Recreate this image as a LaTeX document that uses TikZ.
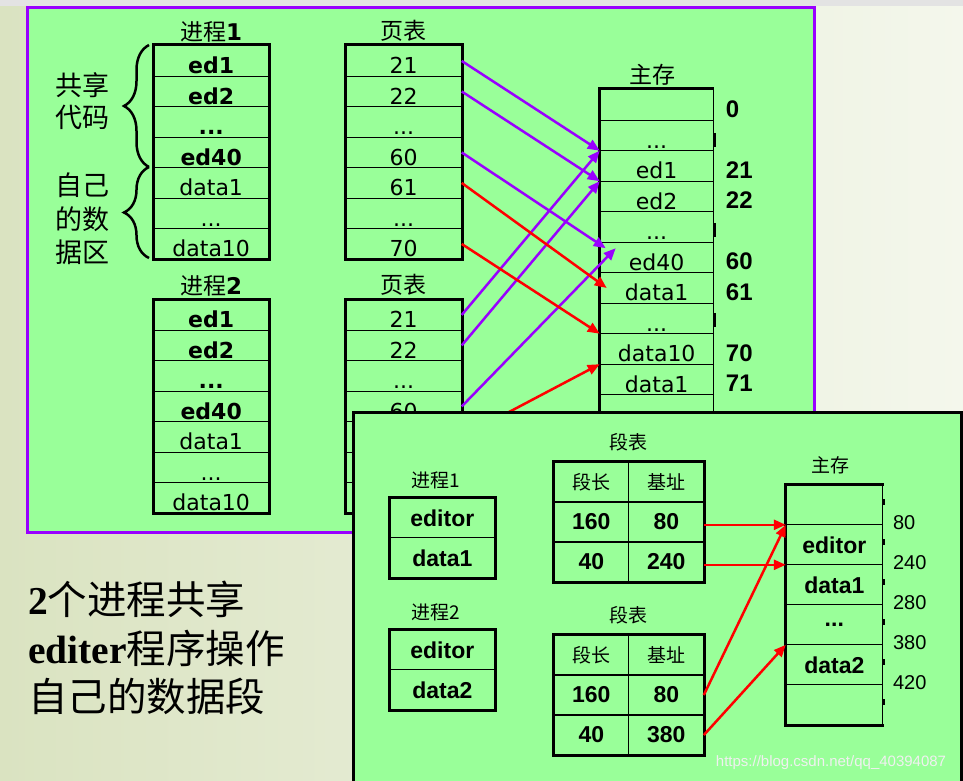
\documentclass[tikz,border=0pt]{standalone}
\usepackage{fontspec}
\setmainfont{DejaVu Sans}
\newfontfamily\cjk{Noto Sans CJK SC}
\newfontfamily\arialf{Liberation Sans}
\newfontfamily\timesf{Liberation Serif}
\usepackage{tikz}
\usetikzlibrary{matrix,arrows.meta,positioning}
\usetikzlibrary{decorations.pathreplacing}

\definecolor{panelgreen}{RGB}{153,255,153}
\definecolor{arrpurple}{RGB}{153,0,255}
\definecolor{bgleft}{RGB}{218,227,193}
\definecolor{bgright}{RGB}{244,247,236}

\newcommand\cellfont{\fontsize{22}{26}\selectfont}
\newcommand\segfont{\arialf\bfseries\fontsize{23}{26}\selectfont}
\newcommand\zh[1]{{\cjk #1}}
\newcommand\zhs[1]{{\cjk\mdseries\fontsize{19}{22}\selectfont #1}}

\begin{document}
\begin{tikzpicture}[x=1pt,y=-1pt,
  tbl/.style={matrix of nodes, nodes in empty cells, inner sep=0pt, row sep=-1pt, anchor=north west,
    nodes={draw, line width=1pt, inner sep=0pt, outer sep=0pt, minimum width=#1,
      minimum height=30.5pt, text height=26pt, text depth=0pt, font=\cellfont}},
  segtbl/.style={matrix of nodes, nodes in empty cells, inner sep=0pt, row sep=-1.2pt, column sep=-1.2pt, anchor=north west,
    nodes={draw, line width=1.2pt, inner sep=0pt, outer sep=0pt, minimum width=#1,
      minimum height=40pt, font=\segfont}},
  frame/.style={line width=3pt},
  ttl/.style={font=\fontsize{23}{26}\selectfont, inner sep=0pt},
  addr/.style={font=\arialf\bfseries\fontsize{24}{26}\selectfont, inner sep=0pt},
  addrb/.style={font=\arialf\fontsize{20}{22}\selectfont, inner sep=0pt},
  parr/.style={draw=arrpurple, line width=2.5pt, -{Triangle[length=12pt,width=10pt]}},
  rarr/.style={draw=red, line width=2.5pt, -{Triangle[length=12pt,width=10pt]}},
  brc/.style={decorate, decoration={brace, amplitude=25pt}, line width=2.5pt},
]
\useasboundingbox (0,0) rectangle (963,781);
\clip (0,0) rectangle (963,781);
% background
\fill[left color=bgleft, right color=bgright] (0,0) rectangle (963,781);
\fill[gray!22] (0,0) rectangle (963,6);

% paging panel
\draw[line width=3pt, draw=arrpurple, fill=panelgreen] (27.5,8) rectangle (814.5,532);

\matrix (p1) [tbl=115pt] at (153,45) {
  \textbf{ed1} \\ \textbf{ed2} \\ \textbf{...} \\ \textbf{ed40} \\ data1 \\ ... \\ data10 \\
};
\matrix (pt1) [tbl=116pt] at (345,45) {
  21 \\ 22 \\ ... \\ 60 \\ 61 \\ ... \\ 70 \\
};
\matrix (p2) [tbl=115pt] at (153,299) {
  \textbf{ed1} \\ \textbf{ed2} \\ \textbf{...} \\ \textbf{ed40} \\ data1 \\ ... \\ data10 \\
};
\matrix (pt2) [tbl=116pt] at (345,299) {
  21 \\ 22 \\ ... \\ 60 \\ 61 \\ ... \\ 70 \\
};
\matrix (mem) [tbl=114pt] at (599,89) {
  \\ ... \\ ed1 \\ ed2 \\ ... \\ ed40 \\ data1 \\ ... \\ data10 \\ data1 \\ \\
};
\foreach \m in {p1,pt1,p2,pt2}
  \draw[frame] (\m.north west) rectangle (\m.south east);
\draw[frame] (mem.south west) -- (mem.north west) -- (mem.north east);
\foreach \y in {140,230,320}
  \draw[line width=3pt] (714.5,\y-7) -- (714.5,\y+7);

\node[ttl, above=3pt of p1] (p1ttl) {\zh{进程}\textbf{1}};
\node[ttl, above=3pt of pt1] (pt1ttl) {\zh{页表}};
\node[ttl, above=3pt of p2] (p2ttl) {\zh{进程}\textbf{2}};
\node[ttl, above=3pt of pt2] (pt2ttl) {\zh{页表}};
\node[ttl, above=3pt of mem, xshift=-4pt] (memttl) {\zh{主存}};

\draw[brc] (149,167) -- (149,45);
\draw[brc] (149,258) -- (149,167);
\node[font=\cjk\fontsize{27}{32}\selectfont, align=center, inner sep=0pt] (codelbl) at (82,101) {共享\\代码};
\node[font=\cjk\fontsize{27}{33.5}\selectfont, align=center, inner sep=0pt] (datalbl) at (82,219) {自己\\的数\\据区};

\foreach \r/\v in {1/0,3/21,4/22,6/60,7/61,9/70,10/71}
  \node[addr, right=12pt of mem-\r-1, yshift=-4pt] (a1-\r) {\v};

% page table entries to frames
\path
(pt1-1-1.east) edge[parr] (mem-3-1.north west)
(pt1-2-1.east) edge[parr] (mem-4-1.north west)
(pt1-4-1.east) edge[parr] ([xshift=6pt,yshift=-6pt]mem-6-1.north west)
(pt2-1-1.east) edge[parr] (mem-3-1.north west)
(pt2-2-1.east) edge[parr] (mem-4-1.north west)
(pt2-4-1.east) edge[parr] ([xshift=16pt,yshift=-6pt]mem-6-1.north west)
(pt1-5-1.east) edge[rarr] ([xshift=7pt]mem-7-1.west)
(pt1-7-1.east) edge[rarr] (mem-9-1.north west)
(pt2-5-1.east) edge[rarr] (mem-10-1.north west)
;

% segmentation panel
\draw[line width=3pt, fill=panelgreen] (353,412) rectangle (961,800);

\matrix (b1) [segtbl=105pt] at (389,497) {
  editor \\ data1 \\
};
\matrix (b2) [segtbl=105pt] at (389,629) {
  editor \\ data2 \\
};
\matrix (s1) [segtbl=75pt] at (553,461) {
  \zhs{段长} & \zhs{基址} \\ 160 & 80 \\ 40 & 240 \\
};
\matrix (s2) [segtbl=75pt] at (553,634) {
  \zhs{段长} & \zhs{基址} \\ 160 & 80 \\ 40 & 380 \\
};
\matrix (m2) [segtbl=97pt] at (785,484) {
  \\ editor \\ data1 \\ ... \\ data2 \\ \\
};
\foreach \m in {b1,b2,s1,s2}
  \draw[frame] (\m.north west) rectangle (\m.south east);
\draw[frame] (m2.north east) -- (m2.north west) -- (m2.south west) -- (m2.south east);
\foreach \y in {502,542,582,622,662,702}
  \draw[line width=2.5pt] (883.5,\y-3) -- (883.5,\y+3);

\node[above=8pt of b1, xshift=-7pt, inner sep=0pt] (b1ttl) {\zhs{进程1}};
\node[above=8pt of b2, xshift=-7pt, inner sep=0pt] (b2ttl) {\zhs{进程2}};
\node[above=10pt of s1, inner sep=0pt] (s1ttl) {\zhs{段表}};
\node[above=10pt of s2, inner sep=0pt] (s2ttl) {\zhs{段表}};
\node[above=10pt of m2, xshift=-4pt, inner sep=0pt] (m2ttl) {\zhs{主存}};

\foreach \r/\v in {2/80,3/240,4/280,5/380,6/420}
  \node[addrb, right=10pt of m2-\r-1.north east, yshift=2pt] (a2-\r) {\v};

\path
(s1-2-2.east |- m2-2-1.north west) edge[rarr] (m2-2-1.north west)
(s1-3-2.east |- m2-3-1.north west) edge[rarr] (m2-3-1.north west)
(s2-2-2.east) edge[rarr] (m2-2-1.north west)
(s2-3-2.east) edge[rarr] (m2-5-1.north west)
;

% caption text
\node[anchor=west, align=left, inner sep=0pt, font=\fontsize{39.5}{48.5}\selectfont] (summary) at (28,648)
  {\textbf{\timesf 2}\zh{个进程共享}\\\textbf{\timesf editer}\zh{程序操作}\\\zh{自己的数据段}};

\node[font=\arialf\fontsize{15}{15}\selectfont, text=gray!12, inner sep=0pt] (wm) at (831,763) {https://blog.csdn.net/qq\_40394087};
\end{tikzpicture}
\end{document}
